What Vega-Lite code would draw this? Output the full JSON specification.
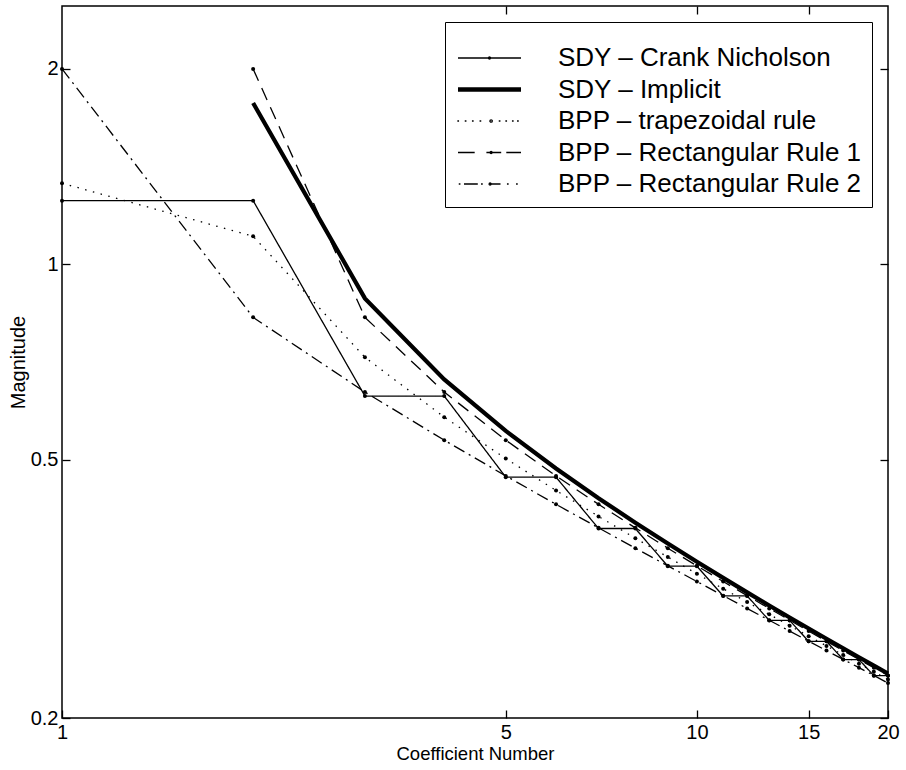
{
  "$schema": "https://vega.github.io/schema/vega-lite/v6.json",
  "width": 826,
  "height": 712,
  "autosize": "none",
  "padding": {"left": 62, "top": 6, "right": 18, "bottom": 52},
  "background": "white",
  "config": {
    "font": "Liberation Sans",
    "view": {"stroke": "black", "strokeWidth": 1.5},
    "axis": {
      "grid": false,
      "domain": false,
      "tickColor": "black",
      "tickWidth": 1.3,
      "tickSize": -8,
      "labelPadding": 12,
      "labelColor": "black",
      "titleColor": "black",
      "labelFont": "Liberation Sans",
      "titleFont": "Liberation Sans",
      "labelFontSize": 20,
      "titleFontSize": 18.5,
      "titleFontWeight": "normal",
      "labelFlush": false,
      "labelOverlap": false
    }
  },
  "datasets": {
    "series": [
      {"s": "SDY – Crank Nicholson", "n": 1, "v": 1.2533},
      {"s": "SDY – Crank Nicholson", "n": 2, "v": 1.2533},
      {"s": "SDY – Crank Nicholson", "n": 3, "v": 0.6267},
      {"s": "SDY – Crank Nicholson", "n": 4, "v": 0.6267},
      {"s": "SDY – Crank Nicholson", "n": 5, "v": 0.47},
      {"s": "SDY – Crank Nicholson", "n": 6, "v": 0.47},
      {"s": "SDY – Crank Nicholson", "n": 7, "v": 0.3917},
      {"s": "SDY – Crank Nicholson", "n": 8, "v": 0.3917},
      {"s": "SDY – Crank Nicholson", "n": 9, "v": 0.3427},
      {"s": "SDY – Crank Nicholson", "n": 10, "v": 0.3427},
      {"s": "SDY – Crank Nicholson", "n": 11, "v": 0.3084},
      {"s": "SDY – Crank Nicholson", "n": 12, "v": 0.3084},
      {"s": "SDY – Crank Nicholson", "n": 13, "v": 0.2827},
      {"s": "SDY – Crank Nicholson", "n": 14, "v": 0.2827},
      {"s": "SDY – Crank Nicholson", "n": 15, "v": 0.2625},
      {"s": "SDY – Crank Nicholson", "n": 16, "v": 0.2625},
      {"s": "SDY – Crank Nicholson", "n": 17, "v": 0.2461},
      {"s": "SDY – Crank Nicholson", "n": 18, "v": 0.2461},
      {"s": "SDY – Crank Nicholson", "n": 19, "v": 0.2324},
      {"s": "SDY – Crank Nicholson", "n": 20, "v": 0.2324},
      {"s": "SDY – Implicit", "n": 2, "v": 1.7725},
      {"s": "SDY – Implicit", "n": 3, "v": 0.8862},
      {"s": "SDY – Implicit", "n": 4, "v": 0.6647},
      {"s": "SDY – Implicit", "n": 5, "v": 0.5539},
      {"s": "SDY – Implicit", "n": 6, "v": 0.4847},
      {"s": "SDY – Implicit", "n": 7, "v": 0.4362},
      {"s": "SDY – Implicit", "n": 8, "v": 0.3999},
      {"s": "SDY – Implicit", "n": 9, "v": 0.3713},
      {"s": "SDY – Implicit", "n": 10, "v": 0.3481},
      {"s": "SDY – Implicit", "n": 11, "v": 0.3288},
      {"s": "SDY – Implicit", "n": 12, "v": 0.3123},
      {"s": "SDY – Implicit", "n": 13, "v": 0.2981},
      {"s": "SDY – Implicit", "n": 14, "v": 0.2857},
      {"s": "SDY – Implicit", "n": 15, "v": 0.2747},
      {"s": "SDY – Implicit", "n": 16, "v": 0.2649},
      {"s": "SDY – Implicit", "n": 17, "v": 0.2561},
      {"s": "SDY – Implicit", "n": 18, "v": 0.2481},
      {"s": "SDY – Implicit", "n": 19, "v": 0.2408},
      {"s": "SDY – Implicit", "n": 20, "v": 0.2341},
      {"s": "BPP – trapezoidal rule", "n": 1, "v": 1.3333},
      {"s": "BPP – trapezoidal rule", "n": 2, "v": 1.1046},
      {"s": "BPP – trapezoidal rule", "n": 3, "v": 0.7191},
      {"s": "BPP – trapezoidal rule", "n": 4, "v": 0.5815},
      {"s": "BPP – trapezoidal rule", "n": 5, "v": 0.502},
      {"s": "BPP – trapezoidal rule", "n": 6, "v": 0.4483},
      {"s": "BPP – trapezoidal rule", "n": 7, "v": 0.4089},
      {"s": "BPP – trapezoidal rule", "n": 8, "v": 0.3784},
      {"s": "BPP – trapezoidal rule", "n": 9, "v": 0.354},
      {"s": "BPP – trapezoidal rule", "n": 10, "v": 0.3336},
      {"s": "BPP – trapezoidal rule", "n": 11, "v": 0.3164},
      {"s": "BPP – trapezoidal rule", "n": 12, "v": 0.3017},
      {"s": "BPP – trapezoidal rule", "n": 13, "v": 0.2889},
      {"s": "BPP – trapezoidal rule", "n": 14, "v": 0.2775},
      {"s": "BPP – trapezoidal rule", "n": 15, "v": 0.2673},
      {"s": "BPP – trapezoidal rule", "n": 16, "v": 0.2583},
      {"s": "BPP – trapezoidal rule", "n": 17, "v": 0.2501},
      {"s": "BPP – trapezoidal rule", "n": 18, "v": 0.2424},
      {"s": "BPP – trapezoidal rule", "n": 19, "v": 0.2357},
      {"s": "BPP – trapezoidal rule", "n": 20, "v": 0.2292},
      {"s": "BPP – Rectangular Rule 1", "n": 2, "v": 2.0},
      {"s": "BPP – Rectangular Rule 1", "n": 3, "v": 0.8284},
      {"s": "BPP – Rectangular Rule 1", "n": 4, "v": 0.6357},
      {"s": "BPP – Rectangular Rule 1", "n": 5, "v": 0.5359},
      {"s": "BPP – Rectangular Rule 1", "n": 6, "v": 0.4721},
      {"s": "BPP – Rectangular Rule 1", "n": 7, "v": 0.4268},
      {"s": "BPP – Rectangular Rule 1", "n": 8, "v": 0.3926},
      {"s": "BPP – Rectangular Rule 1", "n": 9, "v": 0.3653},
      {"s": "BPP – Rectangular Rule 1", "n": 10, "v": 0.3431},
      {"s": "BPP – Rectangular Rule 1", "n": 11, "v": 0.3246},
      {"s": "BPP – Rectangular Rule 1", "n": 12, "v": 0.3087},
      {"s": "BPP – Rectangular Rule 1", "n": 13, "v": 0.295},
      {"s": "BPP – Rectangular Rule 1", "n": 14, "v": 0.2829},
      {"s": "BPP – Rectangular Rule 1", "n": 15, "v": 0.2722},
      {"s": "BPP – Rectangular Rule 1", "n": 16, "v": 0.2626},
      {"s": "BPP – Rectangular Rule 1", "n": 17, "v": 0.254},
      {"s": "BPP – Rectangular Rule 1", "n": 18, "v": 0.2462},
      {"s": "BPP – Rectangular Rule 1", "n": 19, "v": 0.2391},
      {"s": "BPP – Rectangular Rule 1", "n": 20, "v": 0.2326},
      {"s": "BPP – Rectangular Rule 2", "n": 1, "v": 2.0},
      {"s": "BPP – Rectangular Rule 2", "n": 2, "v": 0.8284},
      {"s": "BPP – Rectangular Rule 2", "n": 3, "v": 0.6357},
      {"s": "BPP – Rectangular Rule 2", "n": 4, "v": 0.5359},
      {"s": "BPP – Rectangular Rule 2", "n": 5, "v": 0.4721},
      {"s": "BPP – Rectangular Rule 2", "n": 6, "v": 0.4268},
      {"s": "BPP – Rectangular Rule 2", "n": 7, "v": 0.3926},
      {"s": "BPP – Rectangular Rule 2", "n": 8, "v": 0.3653},
      {"s": "BPP – Rectangular Rule 2", "n": 9, "v": 0.3431},
      {"s": "BPP – Rectangular Rule 2", "n": 10, "v": 0.3246},
      {"s": "BPP – Rectangular Rule 2", "n": 11, "v": 0.3087},
      {"s": "BPP – Rectangular Rule 2", "n": 12, "v": 0.295},
      {"s": "BPP – Rectangular Rule 2", "n": 13, "v": 0.2829},
      {"s": "BPP – Rectangular Rule 2", "n": 14, "v": 0.2722},
      {"s": "BPP – Rectangular Rule 2", "n": 15, "v": 0.2626},
      {"s": "BPP – Rectangular Rule 2", "n": 16, "v": 0.254},
      {"s": "BPP – Rectangular Rule 2", "n": 17, "v": 0.2462},
      {"s": "BPP – Rectangular Rule 2", "n": 18, "v": 0.2391},
      {"s": "BPP – Rectangular Rule 2", "n": 19, "v": 0.2326},
      {"s": "BPP – Rectangular Rule 2", "n": 20, "v": 0.2264}
    ]
  },
  "data": {"name": "series"},
  "layer": [
    {
      "transform": [{"filter": "datum.s !== 'SDY – Implicit'"}],
      "mark": {"type": "line", "color": "black", "strokeWidth": 1.3, "strokeCap": "butt"},
      "encoding": {
        "x": {
          "field": "n", "type": "quantitative",
          "scale": {"type": "log", "domain": [1, 20], "nice": false},
          "axis": {"orient": "bottom", "values": [1, 5, 10, 15, 20], "format": "d", "title": "Coefficient Number", "titlePadding": 2, "titleFontSize": 18.5}
        },
        "y": {
          "field": "v", "type": "quantitative",
          "scale": {"type": "log", "domain": [0.2, 2.5], "nice": false},
          "axis": {"orient": "left", "values": [0.2, 0.5, 1, 2], "format": "~g", "title": "Magnitude", "titlePadding": 2, "titleFontSize": 20}
        },
        "strokeDash": {
          "field": "s", "type": "nominal",
          "scale": {
            "domain": ["SDY – Crank Nicholson", "BPP – trapezoidal rule", "BPP – Rectangular Rule 1", "BPP – Rectangular Rule 2"],
            "range": [[1, 0], [1.5, 6.5], [13, 8], [12, 5, 2, 5]]
          },
          "legend": null
        }
      }
    },
    {
      "transform": [{"filter": "datum.s === 'SDY – Implicit'"}],
      "mark": {"type": "line", "color": "black", "strokeWidth": 4.2, "strokeCap": "butt"},
      "encoding": {
        "x": {"field": "n", "type": "quantitative", "axis": null},
        "y": {"field": "v", "type": "quantitative", "axis": null}
      }
    },
    {
      "transform": [{"filter": "datum.s !== 'SDY – Implicit'"}],
      "mark": {"type": "point", "filled": true, "color": "black", "size": 16, "opacity": 1},
      "encoding": {
        "x": {"field": "n", "type": "quantitative", "axis": {"orient": "top", "values": [5, 10, 15], "labels": false, "title": null}},
        "y": {"field": "v", "type": "quantitative", "axis": {"orient": "right", "values": [0.2, 0.5, 1, 2], "labels": false, "title": null}}
      }
    },
    {
      "mark": {"type": "point", "filled": false, "color": "black", "strokeWidth": 1.3, "opacity": 0},
      "encoding": {
        "x": {"field": "n", "type": "quantitative", "axis": null},
        "y": {"field": "v", "type": "quantitative", "axis": null},
        "shape": {
          "field": "s", "type": "nominal",
          "scale": {
            "domain": ["SDY – Crank Nicholson", "SDY – Implicit", "BPP – trapezoidal rule", "BPP – Rectangular Rule 1", "BPP – Rectangular Rule 2"],
            "range": [
              "M-1,0H5.3M2.05,0A0.1,0.1,0,1,0,2.25,0A0.1,0.1,0,1,0,2.05,0Z",
              "M-1,-0.16H5.3M-1,-0.08H5.3M-1,0H5.3M-1,0.08H5.3M-1,0.16H5.3",
              "M-1,-0.02h0.04v0.04h-0.04ZM-0.26,-0.02h0.04v0.04h-0.04ZM0.46,-0.02h0.04v0.04h-0.04ZM1.22,-0.02h0.04v0.04h-0.04ZM2.19,0A0.12,0.12,0,1,0,2.43,0A0.12,0.12,0,1,0,2.19,0ZM3.14,-0.02h0.04v0.04h-0.04ZM3.8,-0.02h0.04v0.04h-0.04ZM4.46,-0.02h0.04v0.04h-0.04ZM4.97,-0.02h0.04v0.04h-0.04Z",
              "M-1,0H0.67M1.84,0H3.32M3.83,0H5.3M2.21,0A0.1,0.1,0,1,0,2.41,0A0.1,0.1,0,1,0,2.21,0Z",
              "M-0.86,-0.02h0.04v0.04h-0.04ZM-0.4,0H0.98M1.37,-0.02h0.04v0.04h-0.04ZM2.21,0H3.25M2.11,0A0.1,0.1,0,1,0,2.31,0A0.1,0.1,0,1,0,2.11,0ZM3.96,-0.02h0.04v0.04h-0.04ZM4.87,-0.02h0.04v0.04h-0.04Z"
            ]
          },
          "legend": {
            "title": " ",
            "titleFontSize": 8,
            "titlePadding": 5,
            "orient": "top-right",
            "offset": 16,
            "strokeColor": "black",
            "fillColor": "white",
            "padding": 10,
            "labelFont": "Liberation Sans",
            "labelFontSize": 26,
            "labelColor": "black",
            "labelLimit": 0,
            "labelOffset": 77,
            "symbolSize": 400,
            "symbolOpacity": 1,
            "symbolFillColor": "transparent",
            "symbolStrokeColor": "black",
            "symbolStrokeWidth": 1.3,
            "rowPadding": 5.5
          }
        }
      }
    }
  ],
  "resolve": {"axis": {"x": "independent", "y": "independent"}}
}
